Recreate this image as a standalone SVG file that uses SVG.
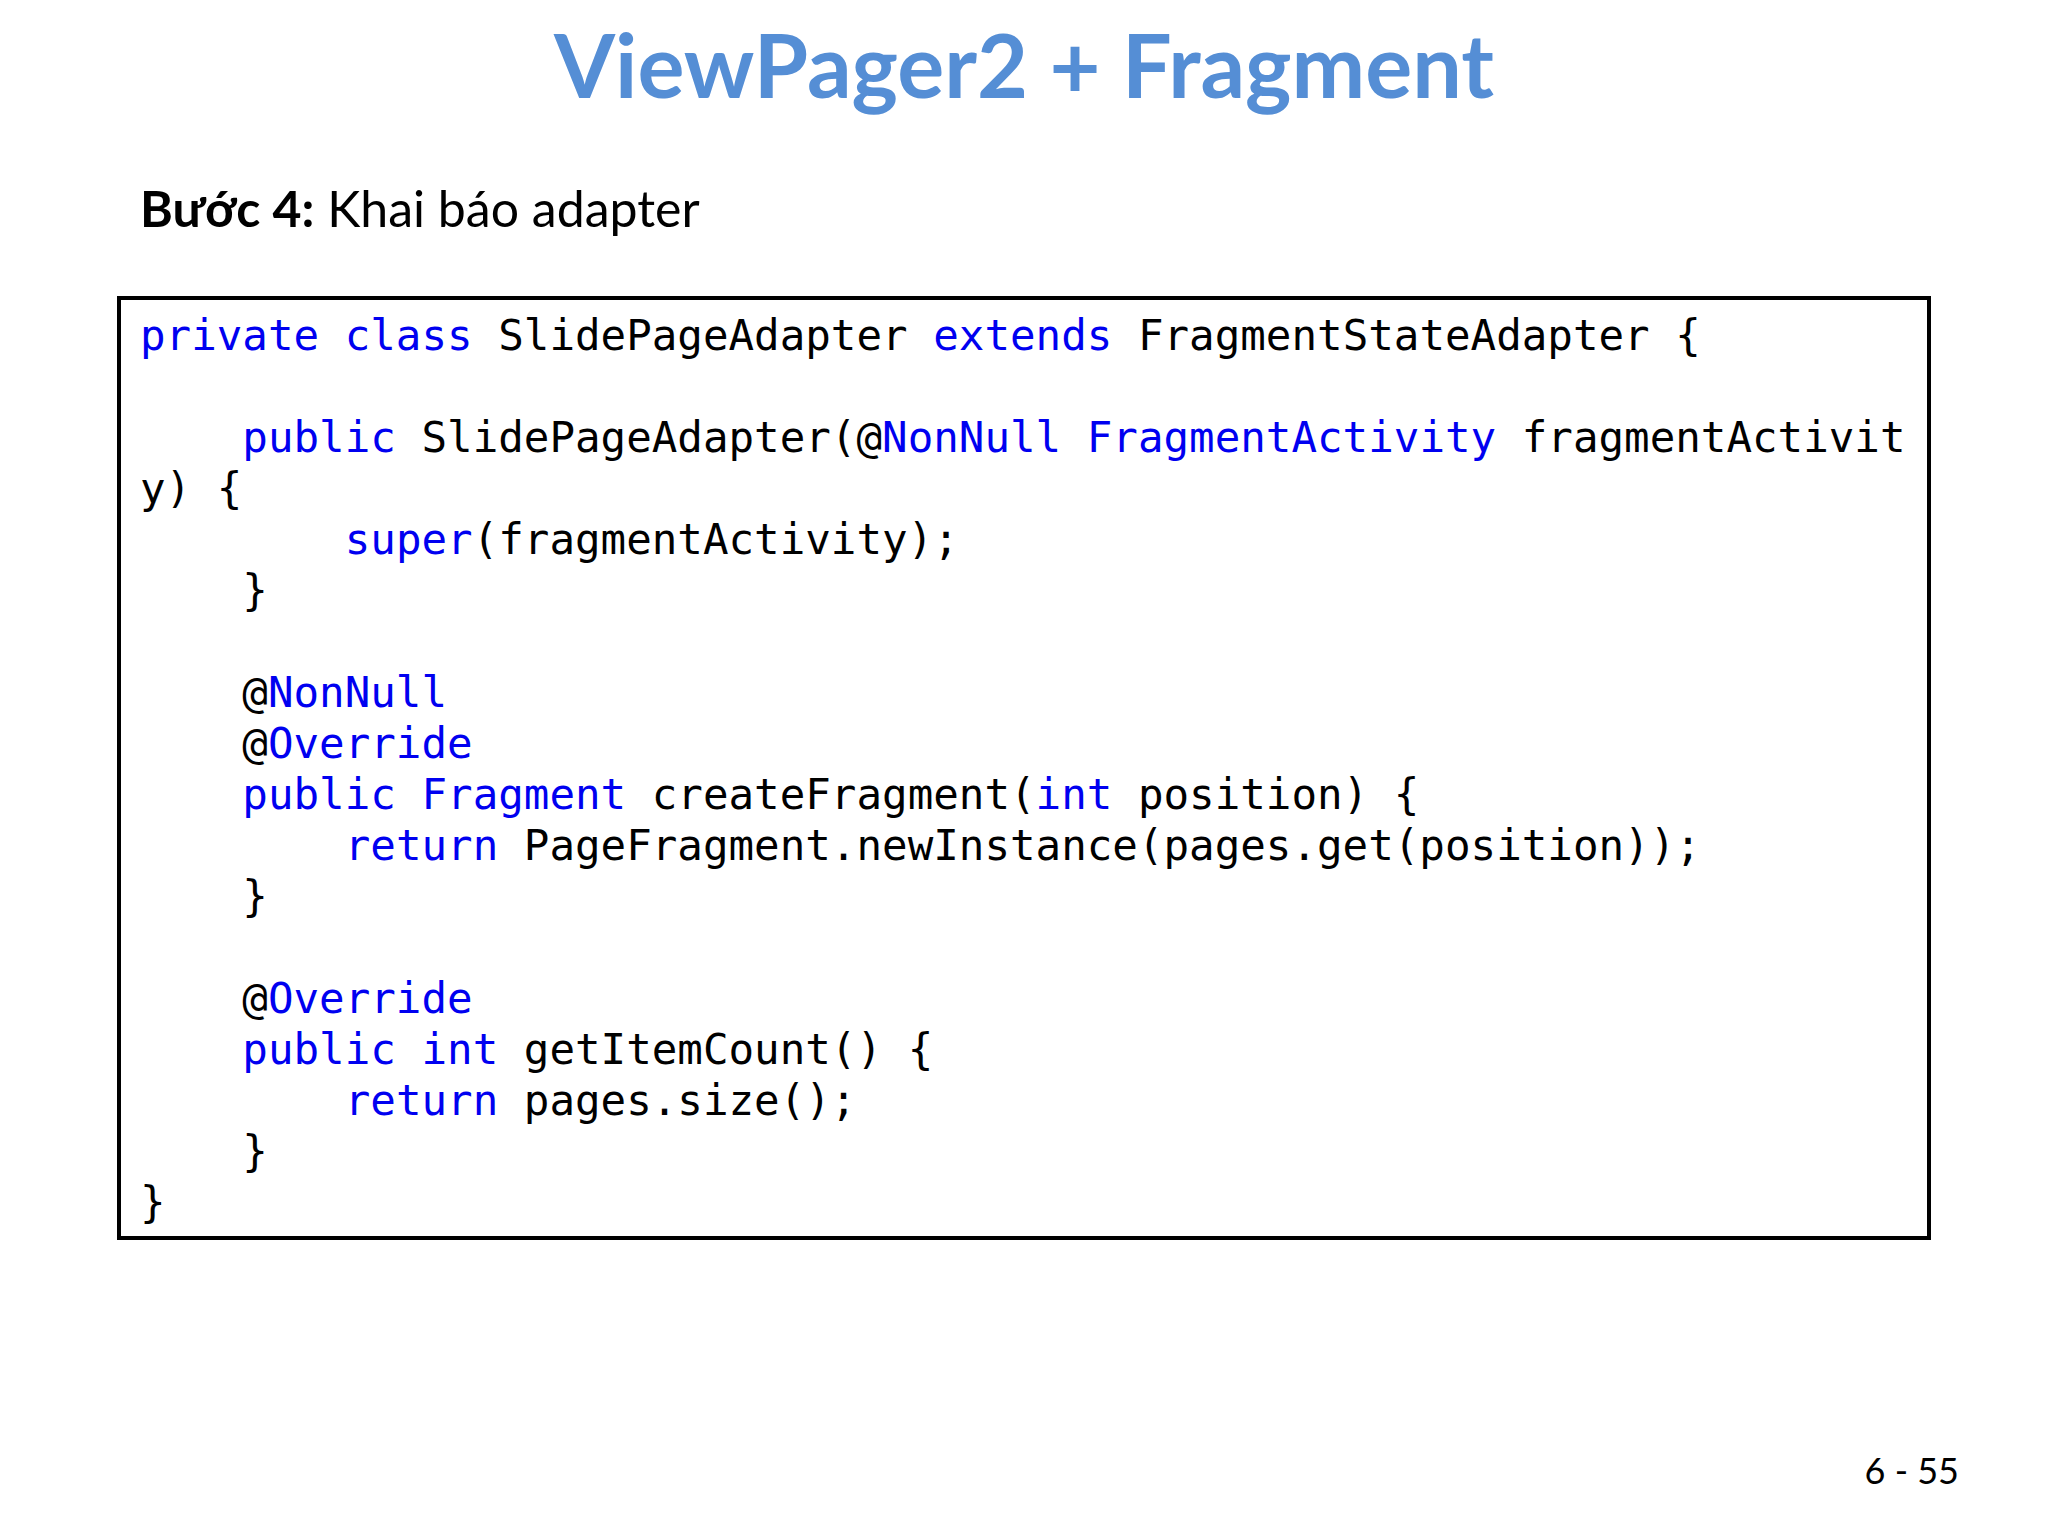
<svg xmlns="http://www.w3.org/2000/svg" width="2048" height="1536" viewBox="0 0 2048 1536">
<style>
.c{font-family:"DejaVu Sans Mono",monospace;font-size:42.5px;fill:#000}
.k{fill:#0000F0}
</style>
<rect width="2048" height="1536" fill="#fff"/>
<g id="title"><text x="1024" y="98" text-anchor="middle" font-family="Lato, sans-serif" font-weight="bold" font-size="88" fill="#558ED5">ViewPager2 + Fragment</text></g>
<g id="step"><text x="140" y="227" font-family="Lato, sans-serif" font-size="50" fill="#000"><tspan font-weight="bold">Bước 4:</tspan> Khai báo adapter</text></g>
<g id="codebox">
<rect x="119" y="298" width="1810" height="940" fill="#fff" stroke="#000" stroke-width="4"/>
<text class="c" xml:space="preserve">
<tspan x="140" y="350"><tspan class="k">private class</tspan> SlidePageAdapter <tspan class="k">extends</tspan> FragmentStateAdapter {</tspan>
<tspan x="140" y="452">    <tspan class="k">public</tspan> SlidePageAdapter(@<tspan class="k">NonNull FragmentActivity</tspan> fragmentActivit</tspan>
<tspan x="140" y="503">y) {</tspan>
<tspan x="140" y="554">        <tspan class="k">super</tspan>(fragmentActivity);</tspan>
<tspan x="140" y="605">    }</tspan>
<tspan x="140" y="707">    @<tspan class="k">NonNull</tspan></tspan>
<tspan x="140" y="758">    @<tspan class="k">Override</tspan></tspan>
<tspan x="140" y="809">    <tspan class="k">public Fragment</tspan> createFragment(<tspan class="k">int</tspan> position) {</tspan>
<tspan x="140" y="860">        <tspan class="k">return</tspan> PageFragment.newInstance(pages.get(position));</tspan>
<tspan x="140" y="911">    }</tspan>
<tspan x="140" y="1013">    @<tspan class="k">Override</tspan></tspan>
<tspan x="140" y="1064">    <tspan class="k">public int</tspan> getItemCount() {</tspan>
<tspan x="140" y="1115">        <tspan class="k">return</tspan> pages.size();</tspan>
<tspan x="140" y="1166">    }</tspan>
<tspan x="140" y="1217">}</tspan>
</text>
</g>
<g id="pagenum"><text x="1959" y="1484" text-anchor="end" font-family="Lato, sans-serif" font-size="36" fill="#000">6 - 55</text></g>
</svg>
